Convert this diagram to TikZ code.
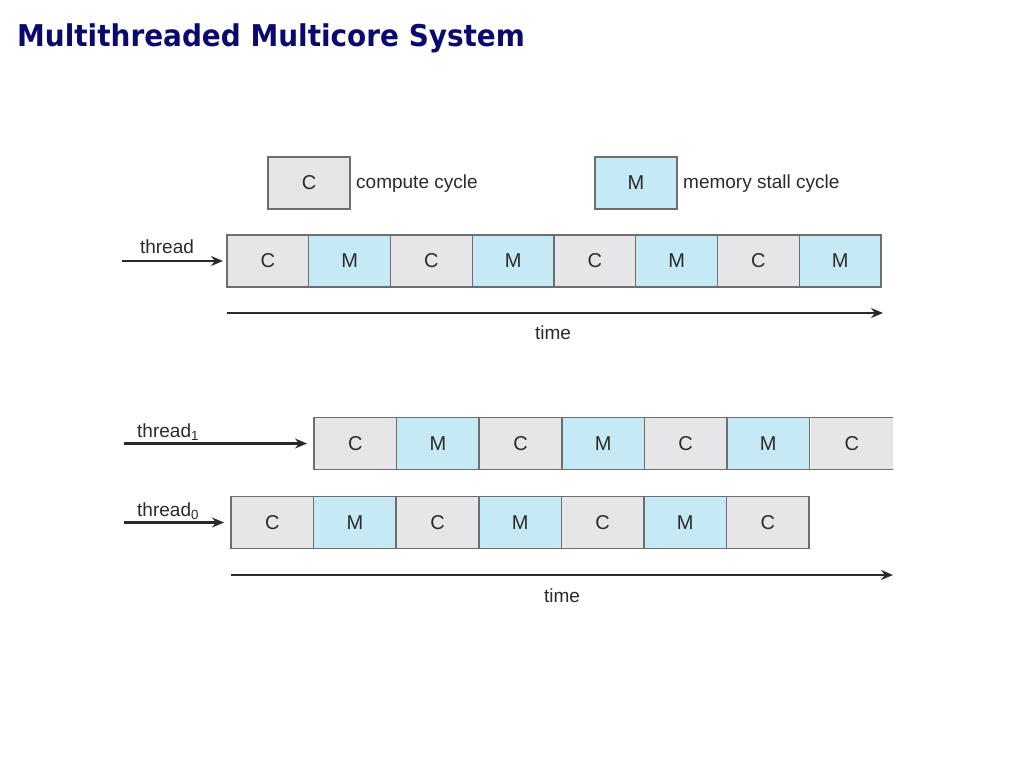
\documentclass[tikz,border=0pt]{standalone}
\usepackage{fontspec}
\setmainfont{Liberation Sans}
\newfontfamily\titlefont{DejaVu Sans}[FakeStretch=0.93]
\usetikzlibrary{arrows.meta}
\definecolor{titleblue}{HTML}{0A0A6E}
\definecolor{cfill}{HTML}{E6E6E8}
\definecolor{mfill}{HTML}{C6E9F6}
\definecolor{bordergray}{HTML}{6E6E6E}
\definecolor{txtgray}{HTML}{2A2A2A}
\tikzset{
  cyc/.style={rectangle, draw=bordergray, line width=1.1pt, outer sep=0pt, minimum height=52pt, inner sep=0pt, font=\fontsize{20}{22}\selectfont, text=txtgray},
  ccell/.style={cyc, fill=cfill},
  mcell/.style={cyc, fill=mfill},
  lab/.style={font=\fontsize{19}{21}\selectfont, text=txtgray, inner sep=0pt},
  arr/.style={line width=2.2pt, draw=txtgray, -{Stealth[length=12pt,width=10pt]}},
}
\begin{document}
\begin{tikzpicture}[x=1pt,y=-1pt]
\useasboundingbox (0,0) rectangle (1024,768);
% title
\node[anchor=base west, inner sep=0pt, text=titleblue, font=\titlefont\bfseries\fontsize{30}{33}\selectfont] (title) at (17,47) {Multithreaded Multicore System};
% legend
\node[ccell, minimum width=82pt] (legC) at (309,183) {C};
\node[lab, anchor=west] (legCt) at (356,184) {compute cycle};
\node[mcell, minimum width=82pt] (legM) at (636,183) {M};
\node[lab, anchor=west] (legMt) at (683,184) {memory stall cycle};
% single thread row
\foreach \i/\t/\s in {1/C/ccell,2/M/mcell,3/C/ccell,4/M/mcell,5/C/ccell,6/M/mcell,7/C/ccell,8/M/mcell}{
  \node[\s, minimum width=81.75pt] (t\i) at ({227+81.75*(\i-0.5)},261) {\t};
}
\coordinate (ts) at (122,261);
\draw[arr, shorten >=4pt] (ts) -- (t1.west);
\node[lab] (thr) at (167,247) {thread};
\coordinate (time1s) at (227,313);
\coordinate (time1e) at (883,313);
\draw[arr] (time1s) -- (time1e);
\node[lab] (time1) at (553,333) {time};
% thread1 row
\foreach \i/\t/\s in {1/C/ccell,2/M/mcell,3/C/ccell,4/M/mcell,5/C/ccell,6/M/mcell}{
  \node[\s, minimum width=82.6pt, line width=1.6pt] (a\i) at ({314+82.6*(\i-0.5)},443.5) {\t};
}
\node[cyc, draw=none, fill=cfill, minimum width=81.6pt, minimum height=52pt] (a7) at (851.8,443.5) {C};
\draw[draw=bordergray, line width=1.6pt] (a6.north east) -- (a7.north east);
\draw[draw=bordergray, line width=1.6pt] (a6.south east) -- (a7.south east);
\coordinate (as) at (124,443.5);
\draw[arr, shorten >=7pt] (as) -- (a1.west);
\node[lab, anchor=base west] (thr1) at (137,437) {thread\textsubscript{1}};
% thread0 row
\foreach \i/\t/\s in {1/C/ccell,2/M/mcell,3/C/ccell,4/M/mcell,5/C/ccell,6/M/mcell,7/C/ccell}{
  \node[\s, minimum width=82.6pt, line width=1.6pt] (b\i) at ({231+82.6*(\i-0.5)},522.5) {\t};
}
\coordinate (bs) at (124,522.5);
\draw[arr, shorten >=7pt] (bs) -- (b1.west);
\node[lab, anchor=base west] (thr0) at (137,516) {thread\textsubscript{0}};
\coordinate (time2s) at (231,575);
\coordinate (time2e) at (893,575);
\draw[arr] (time2s) -- (time2e);
\node[lab] (time2) at (562,596) {time};
\end{tikzpicture}
\end{document}
